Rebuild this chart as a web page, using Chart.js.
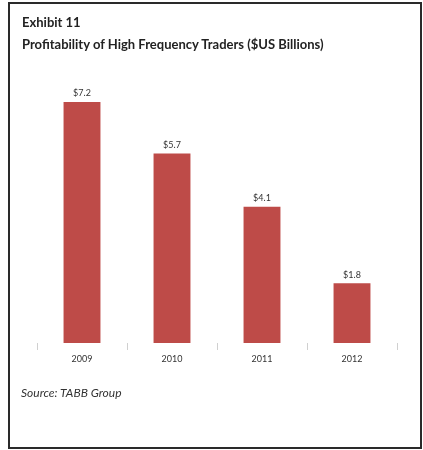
<!DOCTYPE html>
<html>
<head>
<meta charset="utf-8">
<script src="https://cdn.jsdelivr.net/npm/chart.js@4/dist/chart.umd.min.js"></script>
<style>
  html, body { margin: 0; padding: 0; background: #fff; }
  #wrap { position: relative; width: 423px; height: 450px; overflow: hidden; }
  #frame { position: absolute; left: 8px; top: 2px; width: 410px; height: 443px; border: 2px solid #2a2a2a; }
  canvas { position: absolute; left: 0; top: 0; }
  .t { position: absolute; font-family: Lato, "Open Sans", sans-serif; color: #222; white-space: nowrap; }
  #t1 { left: 22px; top: 14px; font-size: 13px; font-weight: bold; }
  #t2 { left: 22px; top: 36px; font-size: 13px; font-weight: bold; }
  #src { left: 21px; top: 385px; font-size: 12px; font-style: italic; color: #333; }
</style>
</head>
<body>
<div id="wrap">
  <div id="frame"></div>
  <canvas id="c" width="423" height="450"></canvas>
  <div class="t" id="t1">Exhibit 11</div>
  <div class="t" id="t2">Profitability of High Frequency Traders ($US Billions)</div>
  <div class="t" id="src">Source: TABB Group</div>
</div>
<script>
const categories = ["2009", "2010", "2011", "2012"];
const profits = [7.25, 5.7, 4.1, 1.8];
const valueLabels = ["$7.2", "$5.7", "$4.1", "$1.8"];

const labelPlugin = {
  id: 'valueLabels',
  afterDatasetsDraw(chart) {
    const ctx = chart.ctx;
    const meta = chart.getDatasetMeta(0);
    ctx.save();
    ctx.font = '9px Lato, "Open Sans", sans-serif';
    ctx.fillStyle = '#333';
    ctx.textAlign = 'center';
    ctx.textBaseline = 'bottom';
    meta.data.forEach((bar, i) => {
      ctx.fillText(valueLabels[i], bar.x, bar.y - 4);
    });
    ctx.restore();
  }
};

new Chart(document.getElementById('c'), {
  type: 'bar',
  data: {
    labels: categories,
    datasets: [{
      data: profits,
      backgroundColor: '#BE4B48',
      borderWidth: 0,
      barPercentage: 0.82,
      categoryPercentage: 0.5
    }]
  },
  options: {
    responsive: false,
    animation: false,
    layout: { padding: { left: 37, right: 26, top: 77, bottom: 67 } },
    plugins: { legend: { display: false }, tooltip: { enabled: false } },
    scales: {
      y: { display: false, min: 0, max: 8 },
      x: {
        afterFit(scale) { scale.height = 40; },
        border: { display: false },
        grid: { drawOnChartArea: false, drawTicks: true, tickLength: 7, color: '#d0d0d0', offset: true },
        ticks: { color: '#333', font: { size: 9, family: 'Lato, "Open Sans", sans-serif' }, padding: 4 }
      }
    }
  },
  plugins: [labelPlugin]
});
</script>
</body>
</html>
